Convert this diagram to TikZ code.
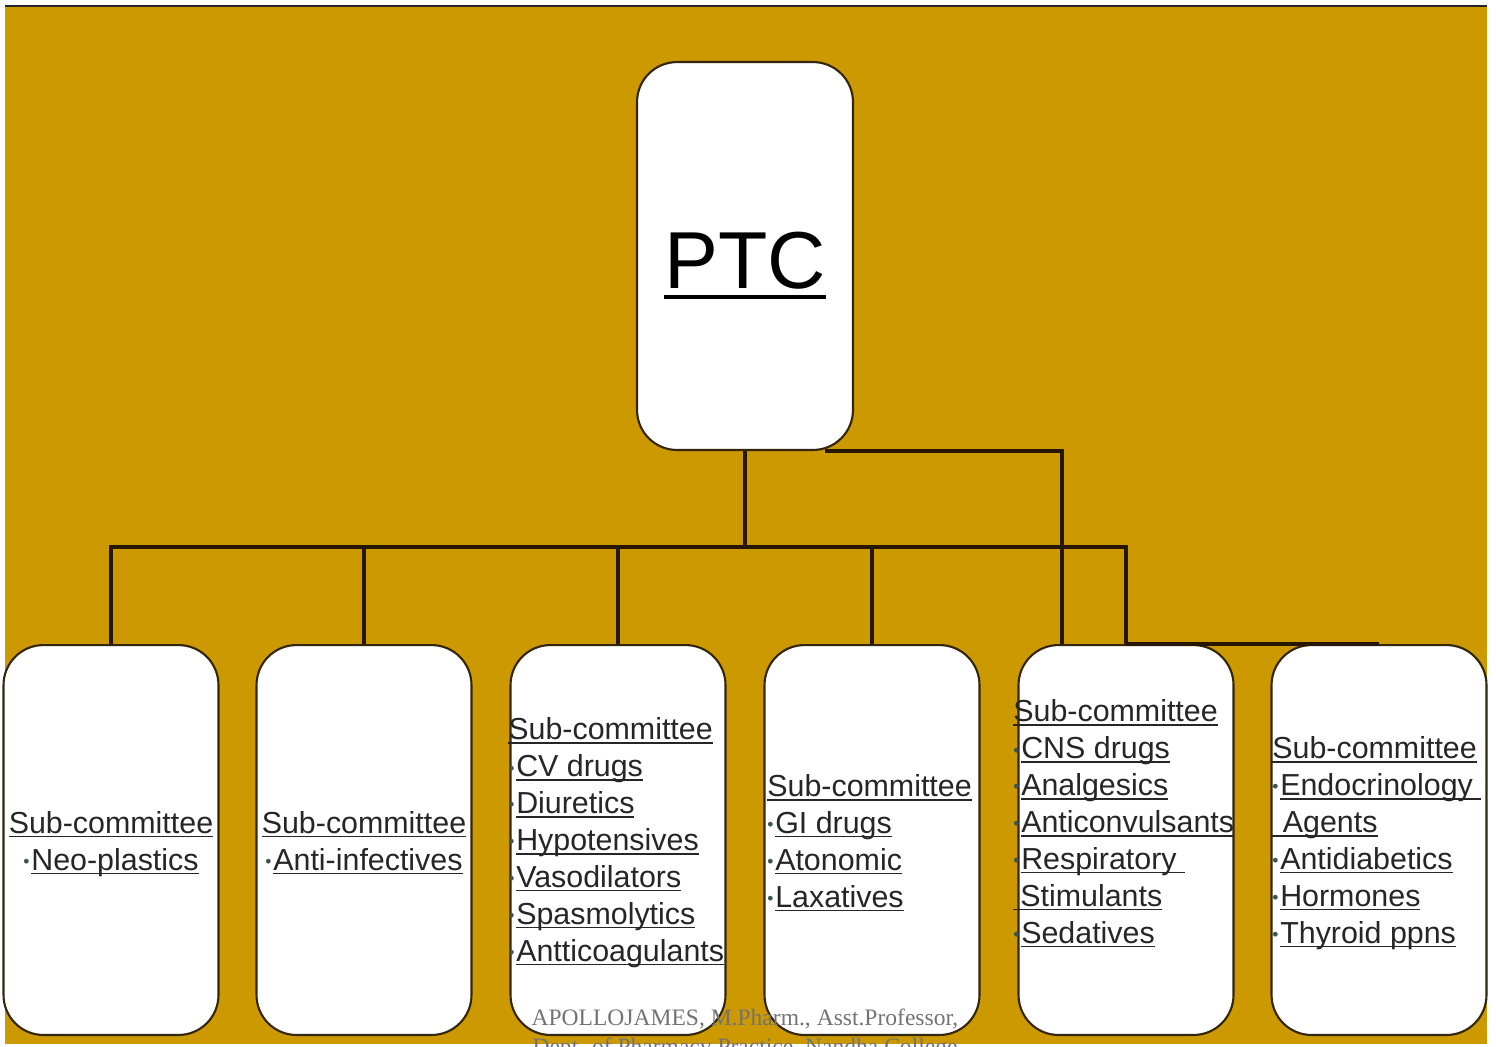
\documentclass[tikz,border=0pt]{standalone}
\usepackage{fontspec}
\setmainfont{Liberation Sans}
\newfontfamily\footfont{Liberation Serif}
\usetikzlibrary{positioning}
\definecolor{gold}{RGB}{204,153,0}
\definecolor{boxline}{RGB}{52,38,8}
\definecolor{wire}{RGB}{38,22,4}
\definecolor{ink}{RGB}{38,38,38}
\definecolor{dotc}{RGB}{60,84,84}
\newcommand{\ulin}[1]{\setbox0\hbox{#1}\rlap{\rule[-0.14em]{\wd0}{0.055em}}\box0}
\newcommand{\bul}{{\color{dotc}\fontsize{10}{10}\selectfont\raisebox{1.4pt}{•}}\hspace{1pt}}
\tikzset{sub box/.style={rectangle, draw=boxline, fill=white, line width=1.2pt,
    rounded corners=0.8cm, minimum width=4.3cm, minimum height=7.8cm, inner sep=0pt}}
\tikzset{top box/.style={sub box, minimum width=4.32cm, minimum height=7.76cm}}
\tikzset{sub text/.style={inner sep=0pt, text=ink, font=\fontsize{17.3}{21}\selectfont}}
\tikzset{wire/.style={draw=wire, line width=2pt}}

\begin{document}
\begin{tikzpicture}
  [x=0.02cm, y=-0.02cm]
  \useasboundingbox (0,0) rectangle (1496,1046);
  \fill [gold] (5,6) rectangle (1487,1044);
  \draw [black!85, line width=1.1pt] (5,6) -- (1487,6);

  % boxes
  \node [top box] (ptc)  at ( 745, 256) {};
  \node [sub box] (sub1) at ( 111, 840) {};
  \node [sub box] (sub2) at ( 364, 840) {};
  \node [sub box] (sub3) at ( 618, 840) {};
  \node [sub box] (sub4) at ( 872, 840) {};
  \node [sub box] (sub5) at (1126, 840) {};
  \node [sub box] (sub6) at (1379, 840) {};

  % texts (base = baseline of the last line)
  \node [sub text, anchor=base, font=\fontsize{46}{50}\selectfont, text=black]
        (ptctxt) at (745, 288) {\ulin{PTC}};
  \node [sub text, anchor=base, align=center] (txt1) at (111, 870)
        {\ulin{Sub-committee}\\\bul\ulin{Neo-plastics}};
  \node [sub text, anchor=base, align=center] (txt2) at (364, 870)
        {\ulin{Sub-committee}\\\bul\ulin{Anti-infectives}};
  \node [sub text, anchor=base west, align=left] (txt3) at (508, 961)
        {\ulin{Sub-committee}\\\bul\ulin{CV drugs}\\\bul\ulin{Diuretics}\\
         \bul\ulin{Hypotensives}\\\bul\ulin{Vasodilators}\\\bul\ulin{Spasmolytics}\\
         \bul\ulin{Antticoagulants}};
  \node [sub text, anchor=base west, align=left] (txt4) at (767, 907)
        {\ulin{Sub-committee}\\\bul\ulin{GI drugs}\\\bul\ulin{Atonomic}\\\bul\ulin{Laxatives}};
  \node [sub text, anchor=base west, align=left] (txt5) at (1013, 943)
        {\ulin{Sub-committee}\\\bul\ulin{CNS drugs}\\\bul\ulin{Analgesics}\\
         \bul\ulin{Anticonvulsants}\\\bul\ulin{Respiratory\ }\\\ulin{\hspace{4pt}Stimulants}\\
         \bul\ulin{Sedatives}};
  \node [sub text, anchor=base west, align=left] (txt6) at (1272, 943)
        {\ulin{Sub-committee}\\\bul\ulin{Endocrinology\ }\\\ulin{\hspace{6pt}Agents}\\
         \bul\ulin{Antidiabetics}\\\bul\ulin{Hormones}\\\bul\ulin{Thyroid ppns}};

  % connectors
  \coordinate (bus) at (745, 547);
  \draw [wire] (ptc.south) -- (bus);
  \draw [wire] (sub1.north) |- (sub5.north |- bus) -- (sub5.north);
  \foreach \n in {2,3,4}
    \draw [wire] (sub\n.north) -- (sub\n.north |- bus);
  \draw [wire] (sub5.north) -- (sub6.north);
  \draw [wire] ([xshift=1.6cm]ptc.south) -| ([xshift=-1.28cm]sub5.north);

  % footer
  \node [sub text, anchor=base, align=center, text=black!55,
         font=\footfont\fontsize{13.4}{16}\selectfont] (foot) at (745, 1054)
        {APOLLOJAMES, M.Pharm., Asst.Professor,\\Dept. of Pharmacy Practice, Nandha College};
\end{tikzpicture}
\end{document}
